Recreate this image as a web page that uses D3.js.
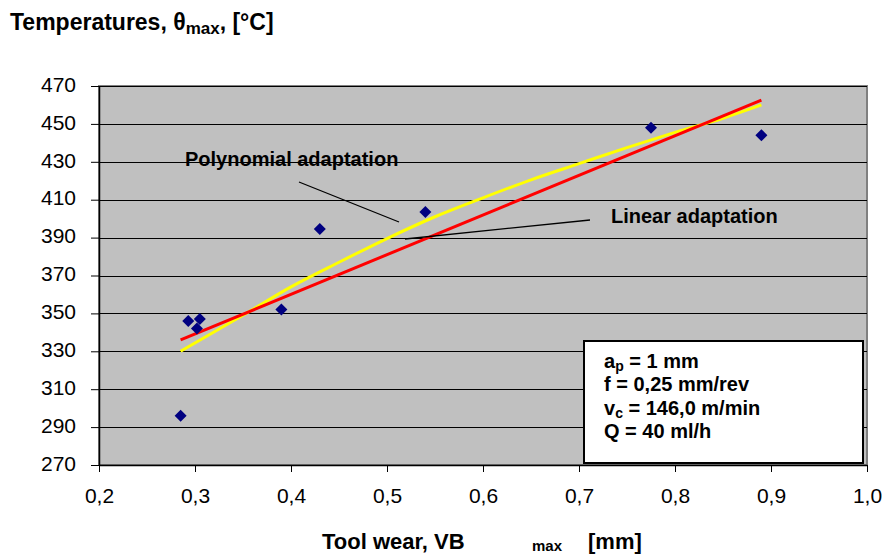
<!DOCTYPE html>
<html><head><meta charset="utf-8">
<script src="https://cdn.jsdelivr.net/npm/d3@7"></script>
<style>body{margin:0;background:#fff}text{font-family:"Liberation Sans",Arial,sans-serif}</style>
</head><body>
<svg id="c" width="882" height="555"></svg>
<script>
const xTicks = [0.2,0.3,0.4,0.5,0.6,0.7,0.8,0.9,1.0];
const yTicks = [270,290,310,330,350,370,390,410,430,450,470];
const pointsX = [0.285,0.293,0.302,0.305,0.39,0.43,0.54,0.775,0.89];
const pointsY = [296,346,342,347,352,394.5,403.5,448,444];
const linearX = [0.285,0.89];
const linearY = [336,462.6];
const polyX = [0.285,0.35,0.40,0.45,0.50,0.55,0.60,0.65,0.70,0.75,0.80,0.85,0.89];
const polyY = [330,349,364,377,389.5,401,411,420.5,429,437.5,445.5,453,460];
const infoLines = [["a","p"," = 1 mm"],["f = 0,25 mm/rev"],["v","c"," = 146,0 m/min"],["Q = 40 ml/h"]];

const svg = d3.select("#c");
const L=99,R=867,T=86,B=465;
const x = d3.scaleLinear().domain([0.2,1.0]).range([L,R]);
const y = d3.scaleLinear().domain([270,470]).range([B,T]);
const fmt = d => d3.format(".1f")(d).replace(".",",");

svg.append("rect").attr("x",L).attr("y",T).attr("width",R-L).attr("height",B-T)
  .attr("fill","#C0C0C0").attr("stroke","#808080").attr("stroke-width",2);

// gridlines
svg.append("g").selectAll("line").data(yTicks.slice(1)).join("line")
  .attr("x1",L).attr("x2",R).attr("y1",d=>Math.round(y(d))+0.5).attr("y2",d=>Math.round(y(d))+0.5)
  .attr("stroke","#000").attr("stroke-width",1);

// axes
const gy = svg.append("g").attr("transform",`translate(${L},0)`)
  .call(d3.axisLeft(y).tickValues(yTicks).tickSize(8).tickSizeOuter(0).tickPadding(15).tickFormat(d3.format("d")));
const gx = svg.append("g").attr("transform",`translate(0,${B})`)
  .call(d3.axisBottom(x).tickValues(xTicks).tickSize(7).tickSizeOuter(0).tickPadding(16).tickFormat(fmt));
[gy,gx].forEach(g=>{
  g.select(".domain").attr("stroke","#000").attr("stroke-width",1.5);
  g.selectAll(".tick line").attr("stroke","#000");
  g.selectAll(".tick text").attr("font-size",21).attr("fill","#000")
   .style("font-family",'"Liberation Sans",Arial,sans-serif');
});
gy.selectAll(".tick text").attr("dy","0.25em");

// lines
const line = d3.line().x(d=>x(d[0])).y(d=>y(d[1]));
svg.append("path").datum(polyX.map((v,i)=>[v,polyY[i]])).attr("d",line.curve(d3.curveMonotoneX))
  .attr("fill","none").attr("stroke","#FFFF00").attr("stroke-width",3);
svg.append("path").datum(linearX.map((v,i)=>[v,linearY[i]])).attr("d",d3.line().x(d=>x(d[0])).y(d=>y(d[1])))
  .attr("fill","none").attr("stroke","#FF0000").attr("stroke-width",3);

// points
svg.append("g").selectAll("path").data(pointsX.map((v,i)=>[v,pointsY[i]])).join("path")
  .attr("d",d3.symbol(d3.symbolSquare,72)())
  .attr("transform",d=>`translate(${x(d[0])},${y(d[1])}) rotate(45)`)
  .attr("fill","#000080");

// annotations
svg.append("text").attr("x",185).attr("y",166).attr("font-size",20).attr("font-weight","bold").text("Polynomial adaptation");
svg.append("line").attr("x1",299).attr("y1",182).attr("x2",399).attr("y2",222).attr("stroke","#000").attr("stroke-width",1.3);
svg.append("text").attr("x",611).attr("y",223).attr("font-size",20).attr("font-weight","bold").text("Linear adaptation");
svg.append("line").attr("x1",405).attr("y1",239).attr("x2",590).attr("y2",220).attr("stroke","#000").attr("stroke-width",1.3);

// info box
svg.append("rect").attr("x",584).attr("y",341).attr("width",279).attr("height",122)
  .attr("fill","#fff").attr("stroke","#000").attr("stroke-width",2);
infoLines.forEach((ln,i)=>{
  const t = svg.append("text").attr("x",604).attr("y",368+i*23.3).attr("font-size",20).attr("font-weight","bold");
  if(ln.length===3){
    t.append("tspan").text(ln[0]);
    t.append("tspan").attr("font-size",14).attr("dy",3).text(ln[1]);
    t.append("tspan").attr("dy",-3).text(ln[2]);
  } else t.text(ln[0]);
});

// title
const tt = svg.append("text").attr("x",10).attr("y",30).attr("font-size",23).attr("font-weight","bold");
tt.append("tspan").text("Temperatures, θ");
tt.append("tspan").attr("font-size",17).attr("dy",4).text("max");
tt.append("tspan").attr("dy",-4).text(", [°C]");

// x label
svg.append("text").attr("x",322).attr("y",549).attr("font-size",22).attr("font-weight","bold").text("Tool wear, VB");
svg.append("text").attr("x",532).attr("y",551).attr("font-size",15).attr("font-weight","bold").text("max");
svg.append("text").attr("x",588).attr("y",549).attr("font-size",22).attr("font-weight","bold").text("[mm]");
</script>
</body></html>
